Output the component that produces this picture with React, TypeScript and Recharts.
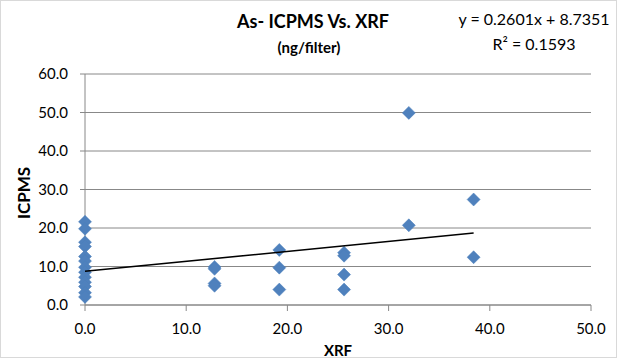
import React from "react";
import {
  ScatterChart,
  Scatter,
  XAxis,
  YAxis,
  CartesianGrid,
} from "recharts";

// XRF (x) vs ICPMS (y), ng/filter
const zeroGroupY = [21.6, 19.8, 16.3, 15.2, 12.6, 11.4, 9.8, 8.5, 7.2, 5.9, 4.8, 3.2, 2.1];
const xrfValues = [12.8, 12.8, 12.8, 12.8, 19.2, 19.2, 19.2, 25.6, 25.6, 25.6, 25.6, 32.0, 32.0, 38.4, 38.4];
const icpmsValues = [9.9, 9.4, 5.6, 5.0, 14.3, 9.7, 4.0, 13.6, 12.8, 7.9, 4.0, 49.9, 20.7, 27.4, 12.4];

const xTicks = [0, 10, 20, 30, 40, 50];
const yTicks = [0, 10, 20, 30, 40, 50, 60];

const slope = 0.2601;
const intercept = 8.7351;
const trendX = [0, 38.4];

const points = [
  ...zeroGroupY.map((y) => ({ x: 0, y })),
  ...xrfValues.map((x, i) => ({ x, y: icpmsValues[i] })),
];
const trend = trendX.map((x) => ({ x, y: slope * x + intercept }));

const FONT = "Lato, 'Open Sans', sans-serif";
const BLUE = "#4F81BD";

const Diamond = (props: any) => {
  const { cx, cy } = props;
  if (cx == null || cy == null) return <g />;
  const r = 6.5;
  return (
    <polygon
      points={`${cx},${cy - r} ${cx + r},${cy} ${cx},${cy + r} ${cx - r},${cy}`}
      fill={BLUE}
      stroke="#4A7EBB"
      strokeWidth={0.5}
    />
  );
};

const NoShape = () => <g />;

export default function App() {
  return (
    <div
      style={{
        position: "absolute",
        left: 0,
        top: 0,
        width: 617,
        height: 358,
        boxSizing: "border-box",
        border: "1px solid #d9d9d9",
        background: "#fff",
        fontFamily: FONT,
      }}
    >
      <ScatterChart
        width={615}
        height={356}
        margin={{ top: 73, right: 25, bottom: 22, left: -1 }}
        style={{ position: "absolute", left: 0, top: 0 }}
      >
        <CartesianGrid vertical={false} stroke="#888888" />
        <XAxis
          type="number"
          dataKey="x"
          domain={[0, 50]}
          ticks={xTicks}
          tickFormatter={(v: number) => v.toFixed(1)}
          height={30}
          stroke="#888888"
          tickSize={6}
          tickMargin={12}
          tick={{ fill: "#000", fontSize: 15, fontFamily: FONT }}
        />
        <YAxis
          type="number"
          dataKey="y"
          domain={[0, 60]}
          ticks={yTicks}
          tickFormatter={(v: number) => v.toFixed(1)}
          width={85}
          stroke="#888888"
          tickSize={5}
          tickMargin={12}
          tick={{ fill: "#000", fontSize: 15, fontFamily: FONT }}
        />
        <Scatter data={points} shape={Diamond} isAnimationActive={false} />
        <Scatter
          data={trend}
          shape={NoShape}
          line={{ stroke: "#000", strokeWidth: 1.5 }}
          isAnimationActive={false}
        />
      </ScatterChart>

      <div style={{ position: "absolute", left: 0, width: 624, top: 8, textAlign: "center", fontWeight: 700, fontSize: 18, lineHeight: "24px" }}>
        As- ICPMS Vs. XRF
      </div>
      <div style={{ position: "absolute", left: 0, width: 616, top: 36, textAlign: "center", fontWeight: 700, fontSize: 15, lineHeight: "20px" }}>
        (ng/filter)
      </div>
      <div style={{ position: "absolute", left: 433, width: 200, top: 7, textAlign: "center", fontSize: 16, lineHeight: "22px" }}>
        y = 0.2601x + 8.7351
      </div>
      <div style={{ position: "absolute", left: 433, width: 200, top: 32, textAlign: "center", fontSize: 16, lineHeight: "22px" }}>
        R² = 0.1593
      </div>
      <div
        style={{
          position: "absolute",
          left: 22,
          top: 192,
          transform: "translate(-50%, -50%) rotate(-90deg)",
          fontWeight: 700,
          fontSize: 17,
          whiteSpace: "nowrap",
        }}
      >
        ICPMS
      </div>
      <div style={{ position: "absolute", left: 237, width: 200, top: 339, textAlign: "center", fontWeight: 700, fontSize: 15, lineHeight: "20px" }}>
        XRF
      </div>
    </div>
  );
}
